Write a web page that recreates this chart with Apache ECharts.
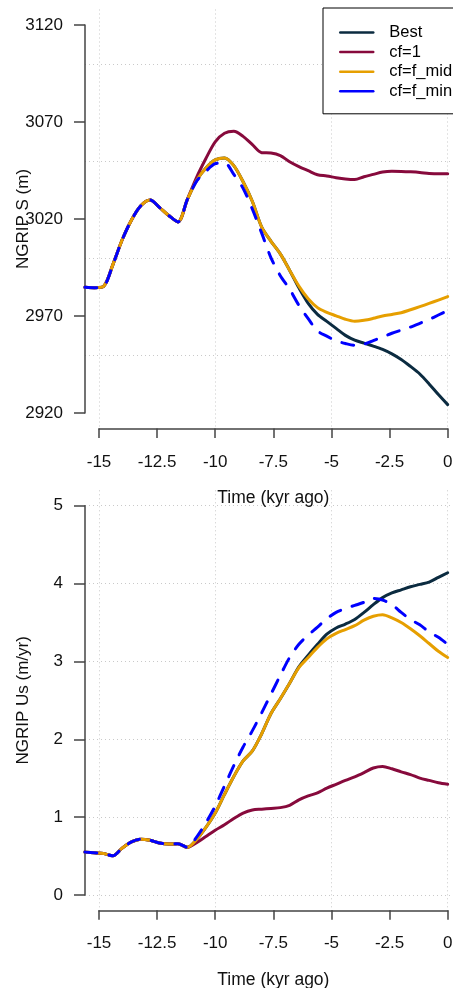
<!DOCTYPE html>
<html>
<head>
<meta charset="utf-8">
<script src="https://cdn.jsdelivr.net/npm/echarts@6/dist/echarts.min.js"></script>
<style>
  html, body { margin: 0; padding: 0; background: #fff; }
  #chart { width: 453px; height: 988px; }
</style>
</head>
<body>
<div id="chart"></div>
<script>
// Time axis (kyr before present)
const timeKyr = [-15.6, -15.2, -14.8, -14.4, -14.0, -13.6, -13.2, -12.8, -12.4, -12.0,
                 -11.6, -11.2, -10.8, -10.4, -10.0, -9.6, -9.2, -8.8, -8.4, -8.0,
                 -7.6, -7.2, -6.8, -6.4, -6.0, -5.6, -5.2, -4.8, -4.4, -4.0,
                 -3.6, -3.2, -2.8, -2.4, -2.0, -1.6, -1.2, -0.8, -0.4, 0];

// NGRIP surface elevation S (m)
const surfBest  = [2984.8, 2984.6, 2985.3, 2996.5, 3009.3, 3019.5, 3026.8, 3029.8, 3026.0, 3021.8,
                   3018.5, 3030.0, 3039.9, 3046.3, 3050.5, 3051.5, 3047.5, 3039.2, 3029.0, 3015.8,
                   3008.5, 3002.0, 2993.6, 2984.5, 2976.5, 2970.8, 2967.2, 2963.6, 2960.0, 2957.5,
                   2956.0, 2954.5, 2952.8, 2950.5, 2947.6, 2944.0, 2940.1, 2935.0, 2929.5, 2924.3];
const surfCf1   = [2984.8, 2984.6, 2985.3, 2996.5, 3009.3, 3019.5, 3026.8, 3029.8, 3026.0, 3021.8,
                   3018.5, 3030.0, 3041.5, 3051.2, 3059.8, 3064.2, 3065.2, 3062.6, 3058.3, 3054.2,
                   3054.0, 3052.7, 3049.5, 3047.0, 3044.9, 3042.8, 3042.2, 3041.3, 3040.6, 3040.3,
                   3041.8, 3043.0, 3044.2, 3044.6, 3044.5, 3044.3, 3044.0, 3043.5, 3043.3, 3043.3];
const surfCfMid = [2984.8, 2984.6, 2985.3, 2996.5, 3009.3, 3019.5, 3026.8, 3029.8, 3026.0, 3021.8,
                   3018.5, 3030.0, 3039.9, 3046.3, 3050.5, 3051.5, 3047.5, 3039.2, 3029.0, 3015.8,
                   3008.5, 3002.0, 2993.6, 2985.4, 2978.9, 2974.3, 2971.9, 2970.1, 2968.3, 2967.3,
                   2967.8, 2968.8, 2970.0, 2970.8, 2971.7, 2973.2, 2974.8, 2976.5, 2978.2, 2980.0];
const surfCfMin = [2984.8, 2984.6, 2985.3, 2996.5, 3009.3, 3019.5, 3026.8, 3029.8, 3026.0, 3021.8,
                   3018.5, 3030.0, 3039.5, 3044.6, 3048.5, 3049.0, 3043.0, 3035.8, 3025.0, 3012.7,
                   3000.0, 2990.8, 2983.9, 2975.5, 2968.6, 2962.3, 2959.6, 2957.2, 2955.8, 2954.9,
                   2955.5, 2957.3, 2959.2, 2961.1, 2962.7, 2964.3, 2966.2, 2968.2, 2970.5, 2972.8];

// NGRIP surface velocity Us (m/yr)
const velBest  = [0.548, 0.540, 0.530, 0.500, 0.600, 0.680, 0.715, 0.700, 0.665, 0.652,
                  0.655, 0.610, 0.710, 0.865, 1.050, 1.290, 1.520, 1.720, 1.850, 2.070,
                  2.330, 2.520, 2.720, 2.930, 3.080, 3.220, 3.350, 3.430, 3.480, 3.540,
                  3.630, 3.730, 3.820, 3.880, 3.920, 3.960, 3.990, 4.020, 4.080, 4.140];
const velCf1   = [0.548, 0.540, 0.530, 0.500, 0.600, 0.680, 0.715, 0.700, 0.665, 0.652,
                  0.655, 0.610, 0.670, 0.750, 0.830, 0.900, 0.980, 1.050, 1.090, 1.100,
                  1.110, 1.120, 1.150, 1.220, 1.270, 1.310, 1.370, 1.420, 1.470, 1.515,
                  1.570, 1.630, 1.650, 1.620, 1.580, 1.545, 1.500, 1.470, 1.440, 1.420];
const velCfMid = [0.548, 0.540, 0.530, 0.500, 0.600, 0.680, 0.715, 0.700, 0.665, 0.652,
                  0.655, 0.610, 0.710, 0.865, 1.050, 1.290, 1.520, 1.720, 1.850, 2.070,
                  2.330, 2.520, 2.720, 2.920, 3.050, 3.180, 3.290, 3.360, 3.410, 3.460,
                  3.530, 3.580, 3.600, 3.560, 3.500, 3.420, 3.330, 3.230, 3.130, 3.050];
const velCfMin = [0.548, 0.540, 0.530, 0.500, 0.600, 0.680, 0.715, 0.700, 0.665, 0.652,
                  0.655, 0.610, 0.740, 0.925, 1.140, 1.400, 1.660, 1.900, 2.110, 2.340,
                  2.580, 2.820, 3.050, 3.220, 3.340, 3.440, 3.550, 3.630, 3.680, 3.720,
                  3.760, 3.810, 3.790, 3.730, 3.630, 3.540, 3.470, 3.380, 3.310, 3.220];

const seriesNames  = ['Best', 'cf=1', 'cf=f_mid', 'cf=f_min'];
const seriesColors = ['#0b2b40', '#870a3c', '#e69f00', '#0000ff'];

// Axis ranges and tick settings
const timeRange    = [-15.6, 0.228]; // visible part of the padded plotting region
const timeTicks    = [-15, 0, 2.5];  // min, max, step of labelled ticks
const timeGridStep = 5;
const sRange       = [2912, 3128];
const sTicks       = [2920, 3120, 50];
const sGridLines   = [2950, 3100, 50];
const uRange       = [-0.2, 5.2];
const uTicks       = [0, 5, 1];

const FONT = '"Liberation Sans", Arial, Helvetica, sans-serif';
const TXT = '#111';
const AXIS_COLOR = '#444';
const GRID_LINE = { show: true, lineStyle: { color: '#c9c9c9', width: 1, type: [1, 3] } };

// Layout (pixels)
const plotLeft = 85, plotWidth = 368;         // plotting region, runs to the right edge
const tickLeft = 99, tickWidth = 348.7;       // span of the time ticks (-15 .. 0)
const upperBox = { plotTop: 9.5, plotH: 419, axTop: 25, axH: 388, gTop: 63.8, gH: 291 };
const lowerBox = { plotTop: 490.3, plotH: 420, axTop: 505.7, axH: 389.3 };

const pairs = (ys) => timeKyr.map((t, i) => [t, ys[i]]);
const hidden = (gridIndex, extra) => Object.assign({ gridIndex, type: 'value', show: false, min: 0, max: 1 }, extra || {});
const gridBox = (left, width, top, height) => ({ left, width, top, height, containLabel: false, outerBoundsMode: 'none' });

function timeAxis(gridIndex) {
  return {
    gridIndex, type: 'value', position: 'bottom',
    min: timeTicks[0], max: timeTicks[1], interval: timeTicks[2],
    name: 'Time (kyr ago)', nameLocation: 'middle', nameGap: 61, nameMoveOverlap: false,
    nameTextStyle: { fontFamily: FONT, fontSize: 17.5, color: TXT },
    axisLine: { show: true, onZero: false, lineStyle: { color: AXIS_COLOR, width: 1.5 } },
    axisTick: { show: true, inside: false, length: 9.5, lineStyle: { color: AXIS_COLOR, width: 1.5 } },
    axisLabel: { show: true, margin: 25, fontFamily: FONT, fontSize: 17, color: TXT,
                 hideOverlap: false, formatter: (v) => String(v) },
    splitLine: { show: false }
  };
}
function timeGrid(gridIndex) {
  return {
    gridIndex, type: 'value', position: 'bottom',
    min: timeTicks[0], max: timeTicks[1], interval: timeGridStep,
    axisLine: { show: false }, axisTick: { show: false }, axisLabel: { show: false },
    splitLine: GRID_LINE
  };
}
function valueAxis(gridIndex, ticks, name, splitLine) {
  return {
    gridIndex, type: 'value', position: 'left',
    min: ticks[0], max: ticks[1], interval: ticks[2],
    name, nameLocation: 'middle', nameGap: 53, nameMoveOverlap: false,
    nameTextStyle: { fontFamily: FONT, fontSize: 17, color: TXT },
    axisLine: { show: true, onZero: false, lineStyle: { color: AXIS_COLOR, width: 1.5 } },
    axisTick: { show: true, inside: false, length: 11, lineStyle: { color: AXIS_COLOR, width: 1.5 } },
    axisLabel: { show: true, margin: 22, fontFamily: FONT, fontSize: 17, color: TXT,
                 formatter: (v) => String(v) },
    splitLine: splitLine ? GRID_LINE : { show: false }
  };
}

function lineSeries(name, idx, xIdx, yIdx, ys) {
  const dashed = idx === 3;
  return {
    name, type: 'line', xAxisIndex: xIdx, yAxisIndex: yIdx,
    data: pairs(ys), showSymbol: false, symbol: 'none', smooth: 0.3,
    z: 2 + idx,
    lineStyle: { color: seriesColors[idx], width: 3, type: dashed ? [12, 12] : 'solid', cap: 'round', join: 'round' },
    itemStyle: { color: seriesColors[idx] },
    emphasis: { disabled: true }
  };
}

const chart = echarts.init(document.getElementById('chart'), null, { renderer: 'canvas' });

const option = {
  animation: false,
  backgroundColor: '#fff',
  grid: [
    // upper panel: data, time ticks, S ticks, S grid lines
    gridBox(plotLeft, plotWidth, upperBox.plotTop, upperBox.plotH),
    gridBox(tickLeft, tickWidth, upperBox.plotTop, upperBox.plotH),
    gridBox(plotLeft, plotWidth, upperBox.axTop, upperBox.axH),
    gridBox(plotLeft, plotWidth, upperBox.gTop, upperBox.gH),
    // lower panel: data, time ticks, Us ticks + grid lines
    gridBox(plotLeft, plotWidth, lowerBox.plotTop, lowerBox.plotH),
    gridBox(tickLeft, tickWidth, lowerBox.plotTop, lowerBox.plotH),
    gridBox(plotLeft, plotWidth, lowerBox.axTop, lowerBox.axH)
  ],
  xAxis: [
    hidden(0, { min: timeRange[0], max: timeRange[1] }),
    timeAxis(1),
    timeGrid(1),
    hidden(2),
    hidden(3),
    hidden(4, { min: timeRange[0], max: timeRange[1] }),
    timeAxis(5),
    timeGrid(5),
    hidden(6)
  ],
  yAxis: [
    hidden(0, { min: sRange[0], max: sRange[1] }),
    hidden(1),
    valueAxis(2, sTicks, 'NGRIP S (m)', false),
    {
      gridIndex: 3, type: 'value', min: sGridLines[0], max: sGridLines[1], interval: sGridLines[2],
      axisLine: { show: false }, axisTick: { show: false }, axisLabel: { show: false },
      splitLine: GRID_LINE
    },
    hidden(4, { min: uRange[0], max: uRange[1] }),
    hidden(5),
    valueAxis(6, uTicks, 'NGRIP Us (m/yr)', true)
  ],
  legend: {
    orient: 'vertical', left: 323, top: 8,
    padding: [16, 40, 14, 16],
    itemWidth: 33, itemHeight: 17, itemGap: 2.6,
    backgroundColor: '#fff', borderColor: '#000', borderWidth: 1, borderRadius: 0,
    selectedMode: false,
    textStyle: { fontFamily: FONT, fontSize: 16.5, color: '#000', lineHeight: 17, padding: [0, 0, 0, 11] },
    itemStyle: { opacity: 0, borderWidth: 0 },
    lineStyle: { type: 'solid', width: 2.5 },
    data: seriesNames
  },
  series: [
    lineSeries(seriesNames[0], 0, 0, 0, surfBest),
    lineSeries(seriesNames[1], 1, 0, 0, surfCf1),
    lineSeries(seriesNames[2], 2, 0, 0, surfCfMid),
    lineSeries(seriesNames[3], 3, 0, 0, surfCfMin),
    lineSeries(seriesNames[0], 0, 5, 4, velBest),
    lineSeries(seriesNames[1], 1, 5, 4, velCf1),
    lineSeries(seriesNames[2], 2, 5, 4, velCfMid),
    lineSeries(seriesNames[3], 3, 5, 4, velCfMin)
  ]
};

chart.setOption(option);
</script>
</body>
</html>
